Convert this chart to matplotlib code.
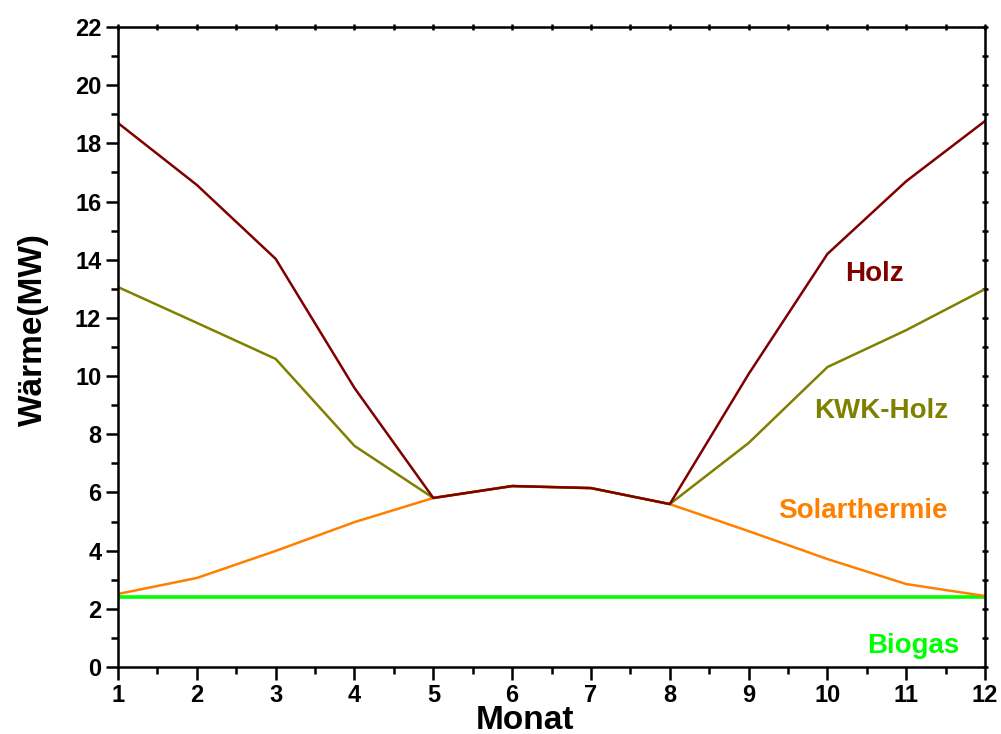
import numpy as np
import matplotlib
matplotlib.use("Agg")
from matplotlib import pyplot as plt
from matplotlib.ticker import MultipleLocator

plt.rcParams["font.family"] = ["Liberation Sans", "DejaVu Sans"]
plt.rcParams["font.weight"] = "bold"

monat = [1, 2, 3, 4, 5, 6, 7, 8, 9, 10, 11, 12]
biogas = [2.41, 2.41, 2.41, 2.41, 2.41, 2.41, 2.41, 2.41, 2.41, 2.41, 2.41, 2.41]
solar = [2.51, 3.06, 3.99, 4.98, 5.81, 6.22, 6.15, 5.6, 4.67, 3.71, 2.85, 2.44]
kwk = [13.06, 11.83, 10.59, 7.6, 5.81, 6.22, 6.15, 5.6, 7.7, 10.31, 11.58, 12.99]
holz = [18.7, 16.57, 14.03, 9.59, 5.81, 6.22, 6.15, 5.6, 10.07, 14.2, 16.7, 18.77]

fig = plt.figure(figsize=(10.01, 7.34), dpi=100)
ax = fig.add_axes([0.1179, 0.0913, 0.8662, 0.8719])

ax.plot(monat, biogas, color="#00FF00", lw=2.6)
ax.plot(monat, solar, color="#FF8000", lw=1.8)
ax.plot(monat, kwk, color="#808000", lw=1.8)
ax.plot(monat, holz, color="#800000", lw=1.8)

lab = {"fontsize": 20, "fontweight": "bold", "ha": "center", "va": "center"}
ax.text(10.59, 13.5, "Holz", color="#800000", **lab)
ax.text(10.68, 8.8, "KWK-Holz", color="#808000", **lab)
ax.text(10.45, 5.36, "Solarthermie", color="#FF8000", **lab)
ax.text(11.09, 0.72, "Biogas", color="#00FF00", **lab)

ax.set_xlim(1, 12)
ax.set_ylim(0, 22)
ax.xaxis.set_major_locator(MultipleLocator(1))
ax.xaxis.set_minor_locator(MultipleLocator(0.5))
ax.yaxis.set_major_locator(MultipleLocator(2))
ax.yaxis.set_minor_locator(MultipleLocator(1))
ax.tick_params(which="major", direction="out", length=9, width=1.8, labelsize=17, pad=3)
ax.tick_params(which="minor", direction="out", length=5, width=1.8)
for t in ax.get_xticklabels() + ax.get_yticklabels():
    t.set_fontweight("bold")
for s in ax.spines.values():
    s.set_linewidth(1.8)

# small mirrored ticks on top and right
top = ax.secondary_xaxis("top")
top.xaxis.set_major_locator(MultipleLocator(1))
top.xaxis.set_minor_locator(MultipleLocator(0.5))
top.tick_params(which="both", direction="inout", length=5, width=1.8, labeltop=False)
right = ax.secondary_yaxis("right")
right.yaxis.set_major_locator(MultipleLocator(2))
right.yaxis.set_minor_locator(MultipleLocator(1))
right.tick_params(which="both", direction="inout", length=5, width=1.8, labelright=False)

ax.set_xlabel("Monat", fontsize=24, fontweight="bold", va="center")
ax.set_ylabel("Wärme(MW)", fontsize=24, fontweight="bold", va="center")
ax.xaxis.set_label_coords(0.469, -0.084)
ax.yaxis.set_label_coords(-0.097, 0.527)

fig.savefig("out.png", dpi=100)
